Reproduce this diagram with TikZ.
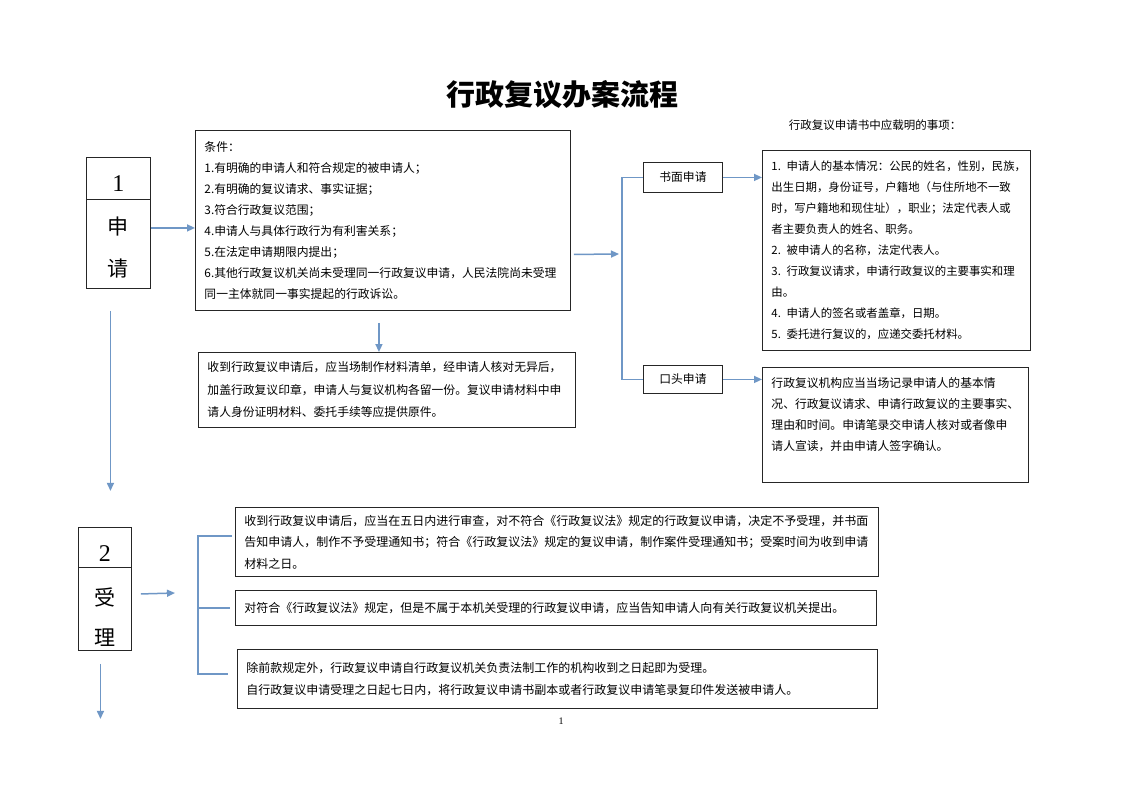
\documentclass[tikz,border=0pt]{standalone}
\usepackage{fontspec}
\setmainfont{Noto Sans CJK SC}
\newfontfamily\numfont{Liberation Serif}
\usetikzlibrary{arrows.meta}
\definecolor{flowblue}{RGB}{111,151,198}

\begin{document}
\begin{tikzpicture}[
    x=1pt, y=-1pt,
    box/.style={draw=black!85, line width=0.9pt, anchor=north west, align=left,
        inner xsep=9pt, inner ysep=0pt, font=\fontsize{11.8}{21}\selectfont},
    tagbox/.style={draw=black!85, line width=0.9pt, anchor=north west, align=center,
        inner sep=0pt, minimum width=79pt, font=\fontsize{11.8}{14}\selectfont},
    stepbox/.style={draw=black!85, line width=0.9pt, anchor=north west, align=center, inner sep=0pt},
    arrow/.style={-{Triangle[length=8pt,width=7pt]}, draw=flowblue, line width=1.5pt},
    link/.style={draw=flowblue, line width=1.5pt}
]
\useasboundingbox[fill=white] (0,0) rectangle (1123,794);

\node[font=\bfseries\fontsize{29}{35}\selectfont] (heading) at (562,95) {行政复议办案流程};

% step 1
\node[stepbox, minimum width=64pt, minimum height=42pt, font=\numfont\fontsize{24}{24}\selectfont] (num1) at (86,157) {\rule{0pt}{27pt}1};
\node[stepbox, minimum width=64pt, minimum height=89pt, font=\fontsize{21}{42}\selectfont] (title1) at (86,199) {\rule{0pt}{24pt}申\\请};

\node[box, text width=357pt, minimum height=180pt] (cond) at (195,130) {条件：\\
1.有明确的申请人和符合规定的被申请人；\\
2.有明确的复议请求、事实证据；\\
3.符合行政复议范围；\\
4.申请人与具体行政行为有利害关系；\\
5.在法定申请期限内提出；\\
6.其他行政复议机关尚未受理同一行政复议申请，人民法院尚未受理\\
同一主体就同一事实提起的行政诉讼。};

\node[box, text width=359pt, minimum height=75pt, font=\fontsize{11.8}{22.5}\selectfont] (receipt) at (198,352) {收到行政复议申请后，应当场制作材料清单，经申请人核对无异后，\\
加盖行政复议印章，申请人与复议机构各留一份。复议申请材料中申\\
请人身份证明材料、委托手续等应提供原件。};

\coordinate (split1) at (622,254);
\node[tagbox, minimum height=30pt] (written) at (643,162) {书面申请};
\node[tagbox, minimum height=28pt] (oral) at (643,365) {口头申请};

\node[font=\fontsize{11.5}{14}\selectfont] (itemsLabel) at (875,125) {行政复议申请书中应载明的事项：};
\node[box, text width=250pt, minimum height=200pt, font=\fontsize{11.4}{21}\selectfont] (itemsW) at (762,150) {1. 申请人的基本情况：公民的姓名，性别，民族，\\
出生日期，身份证号，户籍地（与住所地不一致\\
时，写户籍地和现住址），职业；法定代表人或\\
者主要负责人的姓名、职务。\\
2. 被申请人的名称，法定代表人。\\
3. 行政复议请求，申请行政复议的主要事实和理\\
由。\\
4. 申请人的签名或者盖章，日期。\\
5. 委托进行复议的，应递交委托材料。};

\node[box, text width=248pt, minimum height=115pt] (itemsO) at (762,367) {行政复议机构应当当场记录申请人的基本情\\
况、行政复议请求、申请行政复议的主要事实、\\
理由和时间。申请笔录交申请人核对或者像申\\
请人宣读，并由申请人签字确认。\\ ~};

\draw[arrow] ([yshift=16pt]title1.east) -- ([yshift=16pt]title1.east -| cond.west);
\draw[arrow] ([xshift=-4pt,yshift=-12pt]cond.south) -- ([xshift=-4pt]cond.south |- receipt.north);
\draw[arrow] ([xshift=3pt,yshift=-34pt]cond.east) -- ([xshift=-3pt]split1);
\draw[link] (written.west) -- (written.west -| split1) -- (oral.west -| split1) -- (oral.west);
\draw[arrow] (written.east) -- (written.east -| itemsW.west);
\draw[arrow] (oral.east) -- (oral.east -| itemsO.west);
\draw[arrow] ([xshift=-8pt,yshift=-22pt]title1.south) -- ++(0,180);

% step 2
\node[stepbox, minimum width=53pt, minimum height=40pt, font=\numfont\fontsize{24}{24}\selectfont] (num2) at (78,527) {\rule{0pt}{28pt}2};
\node[stepbox, minimum width=53pt, minimum height=83pt, font=\fontsize{21}{40}\selectfont] (title2) at (78,567) {\rule{0pt}{34pt}受\\理};

\node[box, text width=625pt, minimum height=69pt, font=\fontsize{12}{21.5}\selectfont] (rev1) at (235,507) {收到行政复议申请后，应当在五日内进行审查，对不符合《行政复议法》规定的行政复议申请，决定不予受理，并书面\\
告知申请人，制作不予受理通知书；符合《行政复议法》规定的复议申请，制作案件受理通知书；受案时间为收到申请\\
材料之日。};
\node[box, text width=623pt, minimum height=35pt, font=\fontsize{12}{21.5}\selectfont] (rev2) at (235,590) {对符合《行政复议法》规定，但是不属于本机关受理的行政复议申请，应当告知申请人向有关行政复议机关提出。};
\node[box, text width=622pt, minimum height=59pt, font=\fontsize{12}{22}\selectfont] (rev3) at (237,649) {除前款规定外，行政复议申请自行政复议机关负责法制工作的机构收到之日起即为受理。\\
自行政复议申请受理之日起七日内，将行政复议申请书副本或者行政复议申请笔录复印件发送被申请人。};

\coordinate (split2) at (198,593);
\draw[arrow] ([xshift=9pt,yshift=15pt]title2.east) -- ([xshift=-23pt]split2);
\draw[link] ([xshift=-3pt,yshift=6pt]rev1.west) -- ([yshift=6pt]rev1.west -| split2) -- ([yshift=5pt]rev3.west -| split2) -- ([xshift=-9pt,yshift=5pt]rev3.west);
\draw[link] (rev2.west -| split2) -- ([xshift=-5pt]rev2.west);
\draw[arrow] ([xshift=-4.5pt,yshift=-13pt]title2.south) -- ++(0,55);

\node[font=\numfont\fontsize{10}{12}\selectfont] (pagenum) at (561,721) {1};

\end{tikzpicture}
\end{document}
